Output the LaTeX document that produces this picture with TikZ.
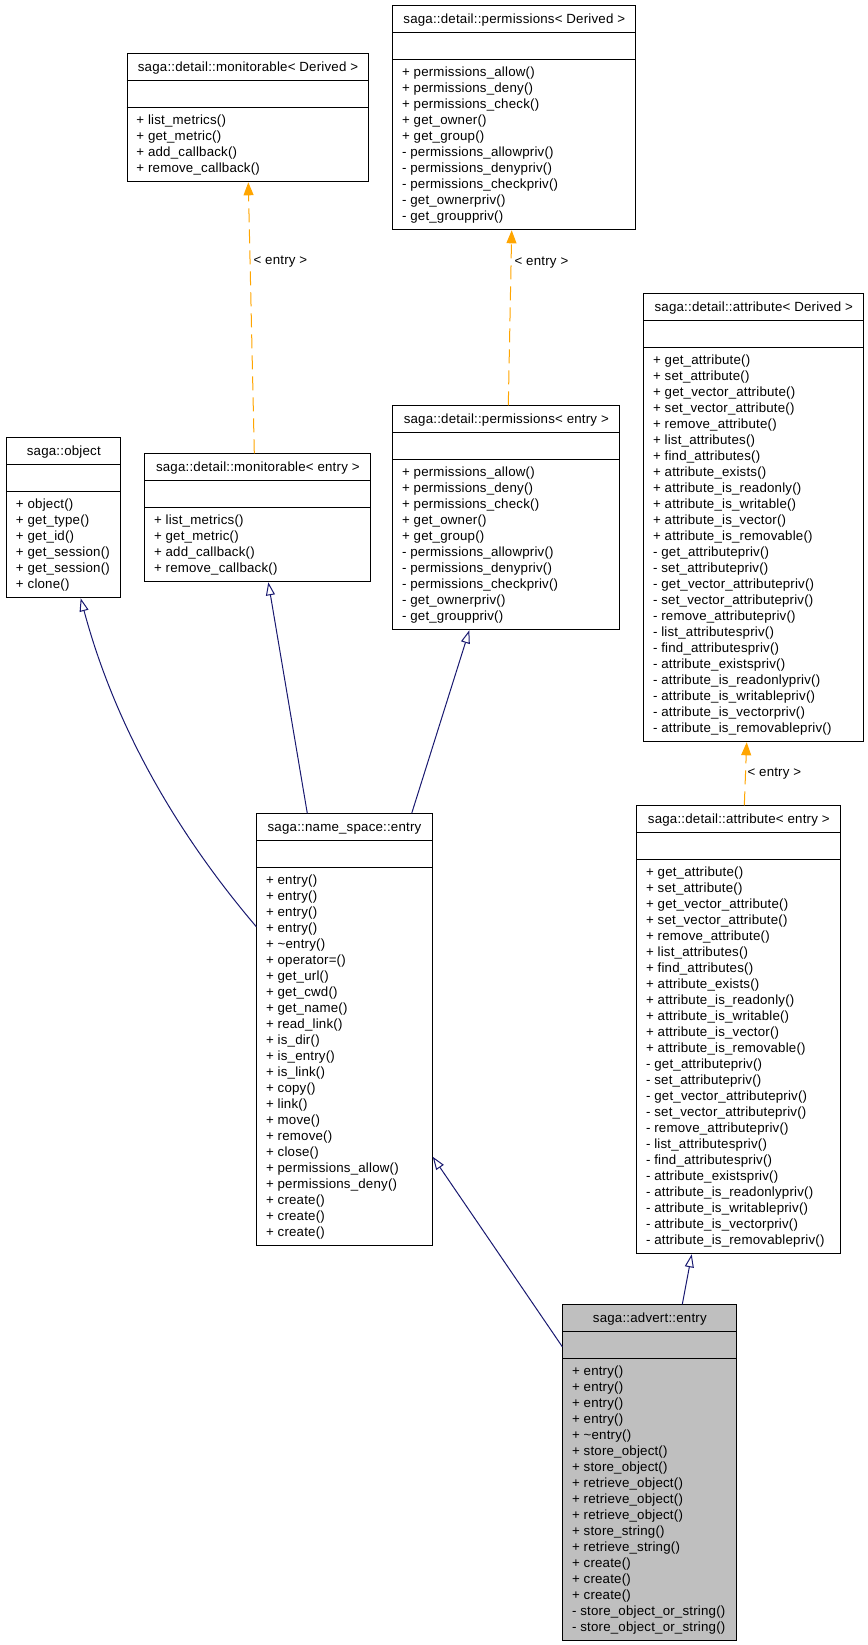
\documentclass[tikz,border=0pt]{standalone}
\usepackage{fontspec}
\usetikzlibrary{arrows.meta}

\newfontfamily\classfamily[LetterSpace=1.5]{Liberation Sans}
\newcommand{\classfont}{\classfamily\fontsize{13.3}{16}\selectfont}
\definecolor{navyline}{HTML}{191970}
\definecolor{tmplorange}{HTML}{FFA500}
\definecolor{advertgray}{HTML}{BFBFBF}

% #1 fill, #2 name, #3 north west corner, #4 width, #5 number of members, #6 header, #7 members
\newcommand{\umlclass}[7][white]{%
  \node[classbox, fill=#1, minimum width=#4, minimum height={64+16*#5}] (#2) at (#3) {};
  \draw[classbox] ([yshift=-27pt]#2.north west) -- ([yshift=-27pt]#2.north east);
  \draw[classbox] ([yshift=-54pt]#2.north west) -- ([yshift=-54pt]#2.north east);
  \node[classhead] (#2-head) at ([yshift=-18pt]#2.north) {#6};
  \foreach \m [count=\i] in {#7}
    \node[member] at ([xshift=9.5pt, yshift={-71.3-16*(\i-1)}]#2.north west) {\m};
}

\begin{document}
\begin{tikzpicture}[
    x=1pt, y=-1pt,
    classbox/.style={draw=black, line width=1pt, inner sep=0pt, anchor=north west},
    classhead/.style={font=\classfont, inner sep=0pt, anchor=base},
    member/.style={font=\classfont, inner sep=0pt, anchor=base west},
    inherit/.style={draw=navyline, line width=1pt,
      -{Triangle[open, length=13pt, width=9pt]}},
    tmpl/.style={draw=tmplorange, line width=1pt, dash pattern=on 14pt off 7pt,
      -{Triangle[length=13pt, width=10pt]}},
    tmpllabel/.style={font=\classfont, inner sep=0pt, anchor=west},
  ]
  \useasboundingbox (0,0) rectangle (867,1645);

  % templates
  \umlclass{monderived}{126.7,53.3}{241.6}{4}{saga::detail::monitorable< Derived >}
    {+ list\_metrics(), + get\_metric(), + add\_callback(), + remove\_callback()}
  \umlclass{permderived}{392.3,5.3}{243}{10}{saga::detail::permissions< Derived >}
    {+ permissions\_allow(), + permissions\_deny(), + permissions\_check(),
     + get\_owner(), + get\_group(), - permissions\_allowpriv(),
     - permissions\_denypriv(), - permissions\_checkpriv(), - get\_ownerpriv(),
     - get\_grouppriv()}
  \umlclass{attrderived}{643.3,293.3}{220}{24}{saga::detail::attribute< Derived >}
    {+ get\_attribute(), + set\_attribute(), + get\_vector\_attribute(),
     + set\_vector\_attribute(), + remove\_attribute(), + list\_attributes(),
     + find\_attributes(), + attribute\_exists(), + attribute\_is\_readonly(),
     + attribute\_is\_writable(), + attribute\_is\_vector(),
     + attribute\_is\_removable(), - get\_attributepriv(), - set\_attributepriv(),
     - get\_vector\_attributepriv(), - set\_vector\_attributepriv(),
     - remove\_attributepriv(), - list\_attributespriv(), - find\_attributespriv(),
     - attribute\_existspriv(), - attribute\_is\_readonlypriv(),
     - attribute\_is\_writablepriv(), - attribute\_is\_vectorpriv(),
     - attribute\_is\_removablepriv()}

  % bases of the name space entry
  \umlclass{object}{6.3,437.3}{114}{6}{saga::object}
    {+ object(), + get\_type(), + get\_id(), + get\_session(), + get\_session(),
     + clone()}
  \umlclass{monentry}{144.3,453.3}{226}{4}{saga::detail::monitorable< entry >}
    {+ list\_metrics(), + get\_metric(), + add\_callback(), + remove\_callback()}
  \umlclass{permentry}{392.3,405.3}{227}{10}{saga::detail::permissions< entry >}
    {+ permissions\_allow(), + permissions\_deny(), + permissions\_check(),
     + get\_owner(), + get\_group(), - permissions\_allowpriv(),
     - permissions\_denypriv(), - permissions\_checkpriv(), - get\_ownerpriv(),
     - get\_grouppriv()}
  \umlclass{nsentry}{256.3,813.3}{175.4}{23}{saga::name\_space::entry}
    {+ entry(), + entry(), + entry(), + entry(), + \textasciitilde entry(),
     + operator=(), + get\_url(), + get\_cwd(), + get\_name(), + read\_link(),
     + is\_dir(), + is\_entry(), + is\_link(), + copy(), + link(), + move(),
     + remove(), + close(), + permissions\_allow(), + permissions\_deny(),
     + create(), + create(), + create()}
  \umlclass{attrentry}{636.3,805.3}{204}{24}{saga::detail::attribute< entry >}
    {+ get\_attribute(), + set\_attribute(), + get\_vector\_attribute(),
     + set\_vector\_attribute(), + remove\_attribute(), + list\_attributes(),
     + find\_attributes(), + attribute\_exists(), + attribute\_is\_readonly(),
     + attribute\_is\_writable(), + attribute\_is\_vector(),
     + attribute\_is\_removable(), - get\_attributepriv(), - set\_attributepriv(),
     - get\_vector\_attributepriv(), - set\_vector\_attributepriv(),
     - remove\_attributepriv(), - list\_attributespriv(), - find\_attributespriv(),
     - attribute\_existspriv(), - attribute\_is\_readonlypriv(),
     - attribute\_is\_writablepriv(), - attribute\_is\_vectorpriv(),
     - attribute\_is\_removablepriv()}

  % the class itself
  \umlclass[advertgray]{advert}{562.3,1304.3}{174}{17}{saga::advert::entry}
    {+ entry(), + entry(), + entry(), + entry(), + \textasciitilde entry(),
     + store\_object(), + store\_object(), + retrieve\_object(),
     + retrieve\_object(), + retrieve\_object(), + store\_string(),
     + retrieve\_string(), + create(), + create(), + create(),
     - store\_object\_or\_string(), - store\_object\_or\_string()}

  % template instances
  \draw[tmpl] ([xshift=110pt]monentry.north west) -- ([xshift=121.6pt]monderived.south west)
    node[tmpllabel, pos=0.706, xshift=3pt] (monlabel) {< entry >};
  \draw[tmpl] ([xshift=116pt]permentry.north west) -- ([xshift=119.4pt]permderived.south west)
    node[tmpllabel, pos=0.818, xshift=3pt] (permlabel) {< entry >};
  \draw[tmpl] ([xshift=108pt]attrentry.north west) -- ([xshift=103.4pt]attrderived.south west)
    node[tmpllabel, pos=0.5, xshift=1.5pt] (attrlabel) {< entry >};

  % inheritance
  \draw[inherit] ([yshift=-113.4pt]nsentry.north west) .. controls (140,790) and (100,670)
    .. ([xshift=74.4pt]object.south west);
  \draw[inherit] ([xshift=51pt]nsentry.north west) -- ([xshift=124pt]monentry.south west);
  \draw[inherit] ([xshift=155.4pt]nsentry.north west) -- ([xshift=77pt]permentry.south west);
  \draw[inherit] ([yshift=-42.4pt]advert.north west) -- ([yshift=-343.4pt]nsentry.north east);
  \draw[inherit] ([xshift=120pt]advert.north west) -- ([xshift=55.4pt]attrentry.south west);
\end{tikzpicture}
\end{document}
